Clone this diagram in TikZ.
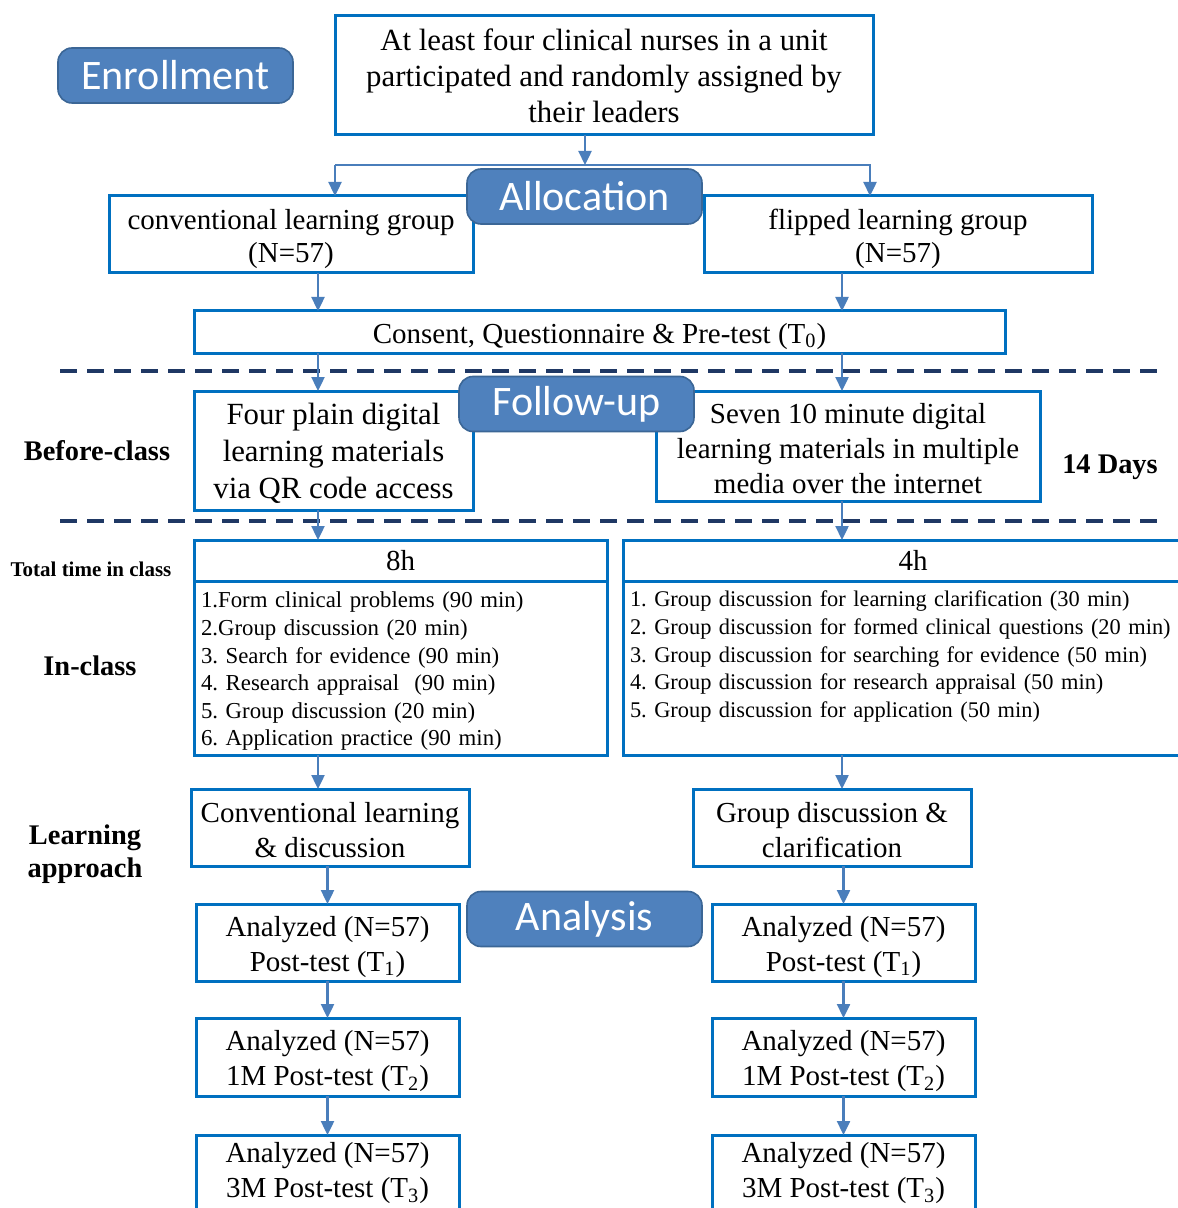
\documentclass[tikz,border=0pt]{standalone}
\usepackage{fontspec}
\setmainfont{Liberation Serif}
\newfontfamily\tagfont{Carlito}
\usetikzlibrary{arrows.meta, positioning, calc}
\definecolor{cfBox}{HTML}{0070C0}
\definecolor{cfArrow}{HTML}{4A7EBB}
\definecolor{cfTag}{HTML}{4F81BD}
\definecolor{cfTagLine}{HTML}{3B6696}
\definecolor{cfDash}{HTML}{1F3864}
% taller first line, pushes box text down a little
\newcommand\lift[1][0.9em]{\rule{0pt}{#1}}

\begin{document}
\frenchspacing
\begin{tikzpicture}[x=0.5pt, y=-0.5pt,
  box/.style={draw=cfBox, line width=1.5pt, fill=white, align=center,
    inner sep=0pt, outer sep=0pt, font=\fontsize{14.5}{17.5}\selectfont},
  list/.style={draw=cfBox, line width=1.5pt, fill=white, align=left,
    inner xsep=3.5pt, inner ysep=0pt, outer sep=0pt, minimum height=87pt,
    font=\fontsize{11.4}{13.8}\selectfont},
  tag/.style={draw=cfTagLine, line width=0.8pt, fill=cfTag, rounded corners=7pt,
    text=white, minimum width=117.5pt, minimum height=27.5pt, inner sep=0pt,
    font=\tagfont\fontsize{21}{24}\selectfont},
  side/.style={align=center, font=\bfseries\fontsize{14.2}{16.5}\selectfont},
  arr/.style={-{Triangle[length=7pt, width=6.5pt]}, line width=1.2pt, cfArrow},
  sep/.style={cfDash, line width=1.6pt, dash pattern=on 8.5pt off 5pt}]

  \useasboundingbox (0,0) rectangle (1177,1208);
  \fill[white] (0,0) rectangle (1177,1208);

  % separators
  \draw[sep] (60,371) -- (1160,371);
  \draw[sep] (60,521) -- (1160,521);

  % enrollment and allocation
  \node[box, minimum width=269pt, minimum height=59.5pt,
    font=\fontsize{15.4}{18}\selectfont] (nurses) at (604,75.5)
    {At least four clinical nurses in a unit\\participated and randomly assigned by\\their leaders};
  \node[box, minimum width=182pt, minimum height=38.5pt,
    font=\fontsize{14.5}{16.5}\selectfont] (conv) at (291,234.5)
    {\lift[1em]conventional learning group\\(N=57)};
  \node[box, minimum width=194pt, minimum height=38.5pt,
    font=\fontsize{14.5}{16.5}\selectfont] (flip) at (898,234.5)
    {\lift[1em]flipped learning group\\(N=57)};
  \node[box, minimum width=405.5pt, minimum height=21pt] (consent) at (599.5,332)
    {\lift[1em]Consent, Questionnaire \& Pre-test (T\textsubscript{0})};

  % follow-up
  \node[box, minimum width=139.5pt, minimum height=59.5pt,
    font=\fontsize{15.4}{18.5}\selectfont] (plainL) at (333.5,450.5)
    {\lift Four plain digital\\learning materials\\via QR code access};
  \node[box, minimum width=192pt, minimum height=55pt] (mediaR) at (848,446)
    {\lift Seven 10 minute digital\\learning materials in multiple\\media over the internet};

  % in class
  \node[box, minimum width=206.5pt, minimum height=20.5pt] (hourL) at (400.5,560.5) {8h};
  \node[list, anchor=north, text width=199.5pt,
    execute at begin node={\rule{0pt}{1em}}] (listL) at (hourL.south)
    {1.Form clinical problems (90 min)\\
     2.Group discussion (20 min)\\
     3. Search for evidence (90 min)\\
     4. Research appraisal~ (90 min)\\
     5. Group discussion (20 min)\\
     6. Application practice (90 min)};
  \node[box, anchor=north west, minimum width=290pt, minimum height=20.5pt] (hourR) at (623,540) {4h};
  \node[list, anchor=north west, text width=283pt,
    font=\fontsize{11.2}{13.8}\selectfont] (listR) at (hourR.south west)
    {1. Group discussion for learning clarification (30 min)\\
     2. Group discussion for formed clinical questions (20 min)\\
     3. Group discussion for searching for evidence (50 min)\\
     4. Group discussion for research appraisal (50 min)\\
     5. Group discussion for application (50 min)\\~};

  % learning approach
  \node[box, minimum width=139pt, minimum height=38.5pt] (convL) at (330,827.5)
    {\lift Conventional learning\\\& discussion};
  \node[box, minimum width=139pt, minimum height=38.5pt] (discR) at (832,827.5)
    {\lift Group discussion \&\\clarification};

  % analysis
  \node[box, minimum width=131.5pt, minimum height=38.5pt] (postL1) at (327.5,942.5)
    {\lift[1em]Analyzed (N=57)\\Post-test (T\textsubscript{1})};
  \node[box, minimum width=131.5pt, minimum height=39pt] (postL2) at (327.5,1057)
    {\lift[1em]Analyzed (N=57)\\1M Post-test (T\textsubscript{2})};
  \node[box, minimum width=131.5pt, minimum height=38.5pt] (postL3) at (327.5,1173.5)
    {Analyzed (N=57)\\3M Post-test (T\textsubscript{3})};
  \node[box, minimum width=131.5pt, minimum height=38.5pt] (postR1) at (843.5,942.5)
    {\lift[1em]Analyzed (N=57)\\Post-test (T\textsubscript{1})};
  \node[box, minimum width=131.5pt, minimum height=39pt] (postR2) at (843.5,1057)
    {\lift[1em]Analyzed (N=57)\\1M Post-test (T\textsubscript{2})};
  \node[box, minimum width=131.5pt, minimum height=38.5pt] (postR3) at (843.5,1173.5)
    {Analyzed (N=57)\\3M Post-test (T\textsubscript{3})};

  % stage tags
  \node[tag] (enrollTag) at (175.5,75.5) {Enrollment};
  \node[tag] (allocTag) at (584.5,196.5) {Allocation};
  \node[tag] (followTag) at (576.5,404) {Follow-up};
  \node[tag] (analysisTag) at (584.5,919) {Analysis};

  % row labels
  \node[side] (beforeLbl) at (97,451) {Before-class};
  \node[side] (daysLbl) at (1110,467) {14 Days};
  \node[side, font=\bfseries\fontsize{10.5}{12}\selectfont] (totalLbl) at (91,569) {Total time in class};
  \node[side] (inLbl) at (90,666) {In-class};
  \node[side] (learnLbl) at (85,854) {Learning\\approach};

  % connectors
  \coordinate (split) at (585,165);
  \coordinate (splitL) at (335,165);
  \coordinate (splitR) at (870,165);
  \coordinate (colL) at (318,0);
  \coordinate (colR) at (842,0);
  \draw[arr] (nurses.south -| split) -- (split);
  \draw[arr] (splitL) -- (splitR) -- (splitR |- flip.north);
  \draw[arr] (splitL) -- (splitL |- conv.north);
  \draw[arr] (conv.south -| colL) -- (consent.north -| colL);
  \draw[arr] (flip.south -| colR) -- (consent.north -| colR);
  \draw[arr] (consent.south -| colL) -- (plainL.north -| colL);
  \draw[arr] (consent.south -| colR) -- (mediaR.north -| colR);
  \draw[arr] (plainL.south -| colL) -- (hourL.north -| colL);
  \draw[arr] (mediaR.south -| colR) -- (hourR.north -| colR);
  \draw[arr] (listL.south -| colL) -- (convL.north -| colL);
  \draw[arr] (listR.south -| colR) -- (discR.north -| colR);
  \draw[arr] (convL.south -| postL1) -- (postL1.north);
  \draw[arr] (postL1.south) -- (postL2.north);
  \draw[arr] (postL2.south) -- (postL3.north);
  \draw[arr] (discR.south -| postR1) -- (postR1.north);
  \draw[arr] (postR1.south) -- (postR2.north);
  \draw[arr] (postR2.south) -- (postR3.north);
\end{tikzpicture}
\end{document}
